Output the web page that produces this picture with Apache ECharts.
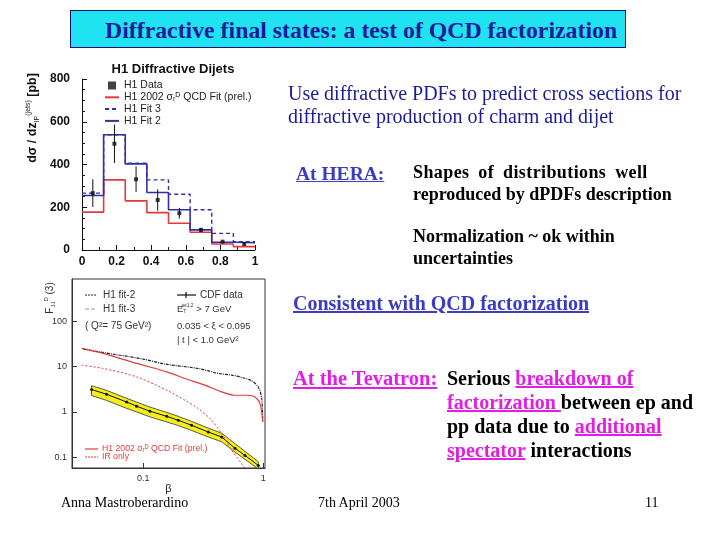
<!DOCTYPE html>
<html>
<head>
<meta charset="utf-8">
<script src="https://cdn.jsdelivr.net/npm/echarts@6/dist/echarts.min.js"></script>
<style>
  html, body { margin: 0; padding: 0; background: #fff; }
  #page { position: relative; width: 720px; height: 540px; overflow: hidden; }
  #chart { position: absolute; left: 0; top: 0; width: 720px; height: 540px; }
  .t { position: absolute; white-space: nowrap; font-family: "Liberation Serif", "Times New Roman", serif; }
  .b { font-weight: bold; }
  .u { text-decoration: underline; }
  .navy { color: #1c1c96; }
  .blue { color: #3b3bc4; }
  .mag { color: #e21ee2; }
  #title {
    position: absolute; left: 70px; top: 10px; width: 520px; height: 36px; padding-left: 34px;
    border: 1px solid #10106a; background: #1fe3f0;
    font-family: "Liberation Serif", serif; font-weight: bold; font-size: 23.8px;
    color: #1a1a9a; text-align: left; line-height: 38px; white-space: nowrap;
  }
</style>
</head>
<body>
<div id="page">
  <div id="chart"></div>
  <div id="title">Diffractive final states: a test of QCD factorization</div>

  <div class="t navy" style="left:288px;top:82px;font-size:20px;line-height:23px;">Use diffractive PDFs to predict cross sections for<br>diffractive production of charm and dijet</div>

  <div class="t b u blue" style="left:296px;top:162px;font-size:19.5px;line-height:24px;">At HERA:</div>
  <div class="t b" style="left:413px;top:161px;font-size:18px;line-height:22px;"><span style="word-spacing:4px;letter-spacing:0.4px;">Shapes of distributions well</span><br>reproduced by dPDFs description</div>
  <div class="t b" style="left:413px;top:225px;font-size:18px;line-height:22px;">Normalization ~ ok within<br>uncertainties</div>

  <div class="t b u blue" style="left:293px;top:291px;font-size:20px;line-height:24px;">Consistent with QCD factorization</div>

  <div class="t b u mag" style="left:293px;top:366px;font-size:20.5px;line-height:24px;">At the Tevatron:</div>
  <div class="t b" style="left:447px;top:366px;font-size:20px;line-height:24px;">
    Serious <span class="u mag">breakdown of</span><br>
    <span class="u mag">factorization </span>between ep and<br>
    pp data due to <span class="u mag">additional</span><br>
    <span class="u mag">spectator</span> interactions
  </div>

  <div class="t" style="left:61px;top:494px;font-size:14px;line-height:18px;">Anna Mastroberardino</div>
  <div class="t" style="left:318px;top:494px;font-size:14px;line-height:18px;">7th April 2003</div>
  <div class="t" style="left:645px;top:494px;font-size:14px;line-height:18px;">11</div>
</div>
<script>
// ---- H1 diffractive dijets (top plot) ----
var binEdges = [0, 0.125, 0.25, 0.375, 0.5, 0.625, 0.75, 0.875, 1];
var qcdFit = [177, 328, 230, 175, 125, 83, 28, 16];
var fit3 = [266, 539, 406, 328, 261, 188, 78, 39];
var fit2 = [255, 539, 403, 269, 188, 94, 36, 34];
var dataX = [0.0625, 0.1875, 0.3125, 0.4375, 0.5625, 0.6875, 0.8125, 0.9375];
var dataY = [266, 497, 331, 234, 172, 94, 39, 28];
var dataErr = [65, 90, 60, 50, 25, 10, 5, 5];

// ---- CDF vs H1 (bottom plot), x = beta ----
var fit2Beta = [0.0316, 0.0562, 0.1, 0.152, 0.287, 0.422, 0.546, 0.661, 0.80, 0.908, 0.97, 0.989];
var fit2F = [24.4, 18.9, 14.7, 11.4, 9.1, 7.1, 6.5, 5.8, 4.85, 3.57, 1.98, 0.6];
var qcdBeta = [0.0307, 0.0464, 0.0881, 0.157, 0.2226, 0.327, 0.45, 0.581, 0.75, 0.853, 0.939, 0.989];
var qcdF = [25.3, 19.6, 11.8, 7.67, 5.48, 3.9, 2.77, 2.34, 2.34, 2.15, 1.53, 0.6];
var irBeta = [0.0307, 0.0464, 0.0881, 0.157, 0.2226, 0.287, 0.371, 0.45, 0.546, 0.661, 0.727];
var irF = [10.8, 9.12, 5.95, 3.02, 1.81, 1.19, 0.655, 0.333, 0.142, 0.072, 0.051];
var cdfBeta = [0.0371, 0.0495, 0.0727, 0.0881, 0.1137, 0.157, 0.196, 0.253, 0.348, 0.45, 0.581, 0.704, 0.908];
var cdfF = [3.13, 2.46, 1.66, 1.34, 1.04, 0.80, 0.655, 0.508, 0.361, 0.28, 0.158, 0.110, 0.0662];
var bandLow = [2.3, 1.8, 1.2, 1.0, 0.78, 0.6, 0.5, 0.39, 0.28, 0.22, 0.13, 0.09, 0.055];
var bandHigh = [3.8, 3.0, 2.0, 1.65, 1.28, 0.98, 0.8, 0.62, 0.44, 0.34, 0.2, 0.135, 0.08];

var chart = echarts.init(document.getElementById('chart'));

// histogram as step line from bin edges
function steps(vals) {
    return binEdges.map(function (e, i) {
        return [e, vals[Math.min(i, vals.length - 1)]];
    });
}
function pairs(xs, ys) {
    return xs.map(function (x, i) { return [x, ys[i]]; });
}

var red = '#e23a3a';
var blue = '#2f2fa8';
var font = 'Liberation Sans';
var noDot = { opacity: 0 };

var option = {
    animation: false,
    textStyle: { fontFamily: font },
    title: {
        text: 'H1 Diffractive Dijets',
        left: 168, top: 58, textAlign: 'center',
        textStyle: { fontSize: 13, fontWeight: 'bold', color: '#111', fontFamily: font }
    },
    legend: {
        left: 99, top: 75, orient: 'vertical',
        itemWidth: 14, itemHeight: 8, itemGap: 0.8,
        textStyle: { fontSize: 10.5, color: '#222' },
        data: [
            { name: 'H1 Data', icon: 'path://M0,0L1,0L1,1L0,1Z' },
            { name: 'H1 2002 σᵣᴰ QCD Fit (prel.)', itemStyle: noDot },
            { name: 'H1 Fit 3', itemStyle: noDot },
            { name: 'H1 Fit 2', itemStyle: noDot }
        ]
    },
    grid: [
        { left: 82, top: 79, width: 173, height: 171, show: false },
        { left: 72, top: 279, width: 193, height: 189, show: true, borderColor: '#333', borderWidth: 1 }
    ],
    xAxis: [
        {
            gridIndex: 0, type: 'value', min: 0, max: 1, interval: 0.2,
            axisLine: { lineStyle: { color: '#111', width: 1 } },
            axisTick: { inside: true, length: 5, lineStyle: { color: '#111' } },
            minorTick: { show: true, splitNumber: 2, length: 3 },
            splitLine: { show: false },
            axisLabel: { fontSize: 12, fontWeight: 'bold', color: '#111', margin: 6 }
        },
        {
            gridIndex: 1, type: 'log', min: 0.0255, max: 1.033,
            axisLine: { lineStyle: { color: '#333' } },
            axisTick: { inside: true, length: 5, lineStyle: { color: '#333' } },
            splitLine: { show: false },
            axisLabel: { fontSize: 9, color: '#333', margin: 6, showMinLabel: false, showMaxLabel: false },
            name: 'β', nameLocation: 'middle', nameGap: 14,
            nameTextStyle: { fontSize: 11, color: '#222' }
        }
    ],
    yAxis: [
        {
            gridIndex: 0, type: 'value', min: 0, max: 800, interval: 200,
            axisLine: { show: true, lineStyle: { color: '#111', width: 1 } },
            axisTick: { show: true, inside: true, length: 5, lineStyle: { color: '#111' } },
            minorTick: { show: true, splitNumber: 4, length: 3 },
            splitLine: { show: false },
            axisLabel: { fontSize: 12, fontWeight: 'bold', color: '#111', margin: 12 }
        },
        {
            gridIndex: 1, type: 'log', min: 0.058, max: 860,
            axisLine: { show: true, lineStyle: { color: '#333' } },
            axisTick: { show: true, inside: true, length: 5, lineStyle: { color: '#333' } },
            splitLine: { show: false },
            axisLabel: { fontSize: 9, color: '#333', margin: 5, showMinLabel: false, showMaxLabel: false }
        }
    ],
    graphic: [
        {
            type: 'text', x: 33, y: 118, rotation: Math.PI / 2,
            style: {
                text: '{a|dσ / dz}{s|IP}{p|(jets)}{a| [pb]}',
                align: 'center', verticalAlign: 'middle', fill: '#111',
                rich: {
                    a: { fontSize: 12.5, fontWeight: 'bold', fontFamily: font },
                    s: { fontSize: 7, fontFamily: font, padding: [8, 0, 0, 0] },
                    p: { fontSize: 7, fontFamily: font, padding: [0, 0, 9, 0] }
                }
            }
        },
        {
            type: 'text', x: 50, y: 298, rotation: Math.PI / 2,
            style: {
                text: '{a|F}{s|JJ}{p|D}{a| (3)}',
                align: 'center', verticalAlign: 'middle', fill: '#333',
                rich: {
                    a: { fontSize: 10, fontFamily: font },
                    s: { fontSize: 6, fontFamily: font, padding: [6, 0, 0, 0] },
                    p: { fontSize: 6, fontFamily: font, padding: [0, 0, 7, 0] }
                }
            }
        },
        // bottom plot annotations
        { type: 'line', shape: { x1: 85, y1: 295, x2: 97, y2: 295 }, style: { stroke: '#222', lineWidth: 1, lineDash: [2, 1] } },
        { type: 'text', x: 103, y: 295, style: { text: 'H1 fit-2', fontSize: 10, fill: '#333', verticalAlign: 'middle', fontFamily: font } },
        { type: 'line', shape: { x1: 85, y1: 309, x2: 97, y2: 309 }, style: { stroke: '#999', lineWidth: 1, lineDash: [4, 2] } },
        { type: 'text', x: 103, y: 309, style: { text: 'H1 fit-3', fontSize: 10, fill: '#333', verticalAlign: 'middle', fontFamily: font } },
        { type: 'text', x: 85, y: 326, style: { text: '( Q²= 75 GeV²)', fontSize: 10, fill: '#333', verticalAlign: 'middle', fontFamily: font } },
        { type: 'line', shape: { x1: 177, y1: 295, x2: 196, y2: 295 }, style: { stroke: '#111', lineWidth: 1.2 } },
        { type: 'line', shape: { x1: 186, y1: 292, x2: 186, y2: 298 }, style: { stroke: '#111', lineWidth: 1.2 } },
        { type: 'text', x: 200, y: 295, style: { text: 'CDF data', fontSize: 10, fill: '#333', verticalAlign: 'middle', fontFamily: font } },
        {
            type: 'text', x: 177, y: 309,
            style: {
                text: '{a|E}{s|T}{p|jet1,2}{a| > 7 GeV}', verticalAlign: 'middle', fill: '#333',
                rich: {
                    a: { fontSize: 9.5, fontFamily: font },
                    s: { fontSize: 5, fontFamily: font, padding: [5, 0, 0, 0] },
                    p: { fontSize: 5, fontFamily: font, padding: [0, 0, 6, -5] }
                }
            }
        },
        { type: 'text', x: 177, y: 326, style: { text: '0.035 < ξ < 0.095', fontSize: 9.5, fill: '#333', verticalAlign: 'middle', fontFamily: font } },
        { type: 'text', x: 177, y: 340, style: { text: '| t | < 1.0 GeV²', fontSize: 9.5, fill: '#333', verticalAlign: 'middle', fontFamily: font } },
        { type: 'line', shape: { x1: 85, y1: 449, x2: 98, y2: 449 }, style: { stroke: red, lineWidth: 1.2 } },
        { type: 'text', x: 102, y: 449, style: { text: 'H1 2002 σᵣᴰ QCD Fit (prel.)', fontSize: 8.7, fill: red, verticalAlign: 'middle', fontFamily: font } },
        { type: 'line', shape: { x1: 85, y1: 457, x2: 98, y2: 457 }, style: { stroke: red, lineWidth: 1, lineDash: [2, 1] } },
        { type: 'text', x: 102, y: 457, style: { text: 'IR only', fontSize: 8.7, fill: red, verticalAlign: 'middle', fontFamily: font } }
    ],
    series: [
        {
            name: 'H1 Data', type: 'scatter', xAxisIndex: 0, yAxisIndex: 0,
            symbol: 'rect', symbolSize: 4, itemStyle: { color: '#111' },
            data: pairs(dataX, dataY), z: 5
        },
        {
            name: 'H1 2002 σᵣᴰ QCD Fit (prel.)', type: 'line', step: 'end', symbol: 'none',
            xAxisIndex: 0, yAxisIndex: 0, lineStyle: { color: red, width: 1.6 }, itemStyle: { color: red },
            data: steps(qcdFit)
        },
        {
            name: 'H1 Fit 3', type: 'line', step: 'end', symbol: 'none',
            xAxisIndex: 0, yAxisIndex: 0, lineStyle: { color: blue, width: 1.4, type: [4, 3] }, itemStyle: { color: blue },
            data: steps(fit3)
        },
        {
            name: 'H1 Fit 2', type: 'line', step: 'end', symbol: 'none',
            xAxisIndex: 0, yAxisIndex: 0, lineStyle: { color: blue, width: 1.6 }, itemStyle: { color: blue },
            data: steps(fit2)
        },
        {
            // error bars for H1 data
            type: 'custom', xAxisIndex: 0, yAxisIndex: 0, z: 4,
            data: dataX.map(function (x, i) { return [x, dataY[i] - dataErr[i], dataY[i] + dataErr[i]]; }),
            encode: { x: 0, y: [1, 2] },
            renderItem: function (params, api) {
                var p1 = api.coord([api.value(0), api.value(1)]);
                var p2 = api.coord([api.value(0), api.value(2)]);
                return { type: 'line', shape: { x1: p1[0], y1: p1[1], x2: p2[0], y2: p2[1] }, style: { stroke: '#111', lineWidth: 1 } };
            }
        },
        {
            // CDF uncertainty band
            type: 'custom', xAxisIndex: 1, yAxisIndex: 1, z: 1,
            data: [[cdfBeta[0], bandLow[0]]],
            renderItem: function (params, api) {
                var pts = [];
                for (var i = 0; i < cdfBeta.length; i++) pts.push(api.coord([cdfBeta[i], bandHigh[i]]));
                for (var j = cdfBeta.length - 1; j >= 0; j--) pts.push(api.coord([cdfBeta[j], bandLow[j]]));
                return { type: 'polygon', shape: { points: pts }, style: { fill: '#f4ee1c', stroke: '#333', lineWidth: 0.8 } };
            }
        },
        {
            name: 'CDF data', type: 'line', xAxisIndex: 1, yAxisIndex: 1, z: 3,
            symbol: 'circle', symbolSize: 3, lineStyle: { color: '#111', width: 1 }, itemStyle: { color: '#111' },
            data: pairs(cdfBeta, cdfF)
        },
        {
            name: 'H1 fit-2', type: 'line', xAxisIndex: 1, yAxisIndex: 1, symbol: 'none', smooth: 0.3,
            lineStyle: { color: '#222', width: 1.2, type: [3, 1, 1, 1] },
            data: pairs(fit2Beta, fit2F)
        },
        {
            name: 'H1 2002 QCD Fit', type: 'line', xAxisIndex: 1, yAxisIndex: 1, symbol: 'none', smooth: 0.3,
            lineStyle: { color: red, width: 1.2 },
            data: pairs(qcdBeta, qcdF)
        },
        {
            name: 'IR only', type: 'line', xAxisIndex: 1, yAxisIndex: 1, symbol: 'none', smooth: 0.3,
            lineStyle: { color: red, width: 1, type: [2, 2] },
            data: pairs(irBeta, irF)
        }
    ]
};

chart.setOption(option);
</script>
</body>
</html>
